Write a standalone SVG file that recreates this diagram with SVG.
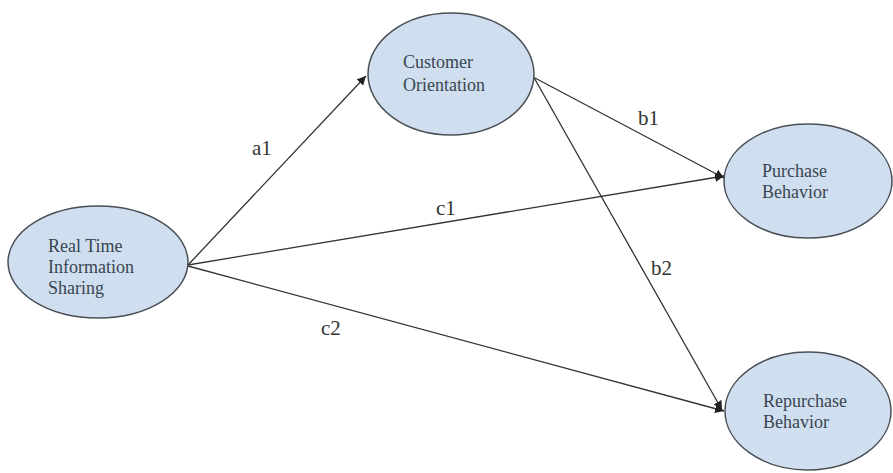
<svg xmlns="http://www.w3.org/2000/svg" width="893" height="473" viewBox="0 0 893 473">
<style>
.node ellipse{fill:#cfdff0;stroke:#4a4f55;stroke-width:1.5}
.node text{font-family:"Liberation Serif",serif;font-size:18px;fill:#3a4550}
.edge{stroke:#333;stroke-width:1.3;fill:none;marker-end:url(#ah)}
.lbl{font-family:"Liberation Serif",serif;font-size:21px;fill:#333}
</style>
<defs>
<marker id="ah" viewBox="0 0 10 10" refX="10" refY="5" markerWidth="9" markerHeight="9" markerUnits="userSpaceOnUse" orient="auto">
<path d="M0,0 L10,5 L0,10 z" fill="#222"/>
</marker>
</defs>
<rect width="893" height="473" fill="#fff"/>
<g id="connectors">
<line class="edge" x1="188" y1="265" x2="366" y2="76"/>
<line class="edge" x1="188" y1="265" x2="724" y2="176"/>
<line class="edge" x1="188" y1="266" x2="724" y2="411"/>
<line class="edge" x1="535" y1="78" x2="724" y2="178"/>
<line class="edge" x1="532" y1="74" x2="722" y2="410"/>
<text class="lbl" x="252" y="155">a1</text>
<text class="lbl" x="436" y="215">c1</text>
<text class="lbl" x="638" y="125">b1</text>
<text class="lbl" x="651" y="275">b2</text>
<text class="lbl" x="321" y="335">c2</text>
</g>
<g id="node-rtis" class="node">
<ellipse cx="98" cy="262" rx="90" ry="56"/>
<text x="48" y="252">Real Time</text>
<text x="48" y="273">Information</text>
<text x="48" y="294">Sharing</text>
</g>
<g id="node-co" class="node">
<ellipse cx="451" cy="74" rx="83" ry="61"/>
<text x="403" y="68">Customer</text>
<text x="403" y="91">Orientation</text>
</g>
<g id="node-pb" class="node">
<ellipse cx="808" cy="181" rx="84" ry="57"/>
<text x="762" y="177">Purchase</text>
<text x="762" y="198">Behavior</text>
</g>
<g id="node-rb" class="node">
<ellipse cx="808" cy="411" rx="83" ry="59"/>
<text x="763" y="407">Repurchase</text>
<text x="763" y="428">Behavior</text>
</g>
</svg>
